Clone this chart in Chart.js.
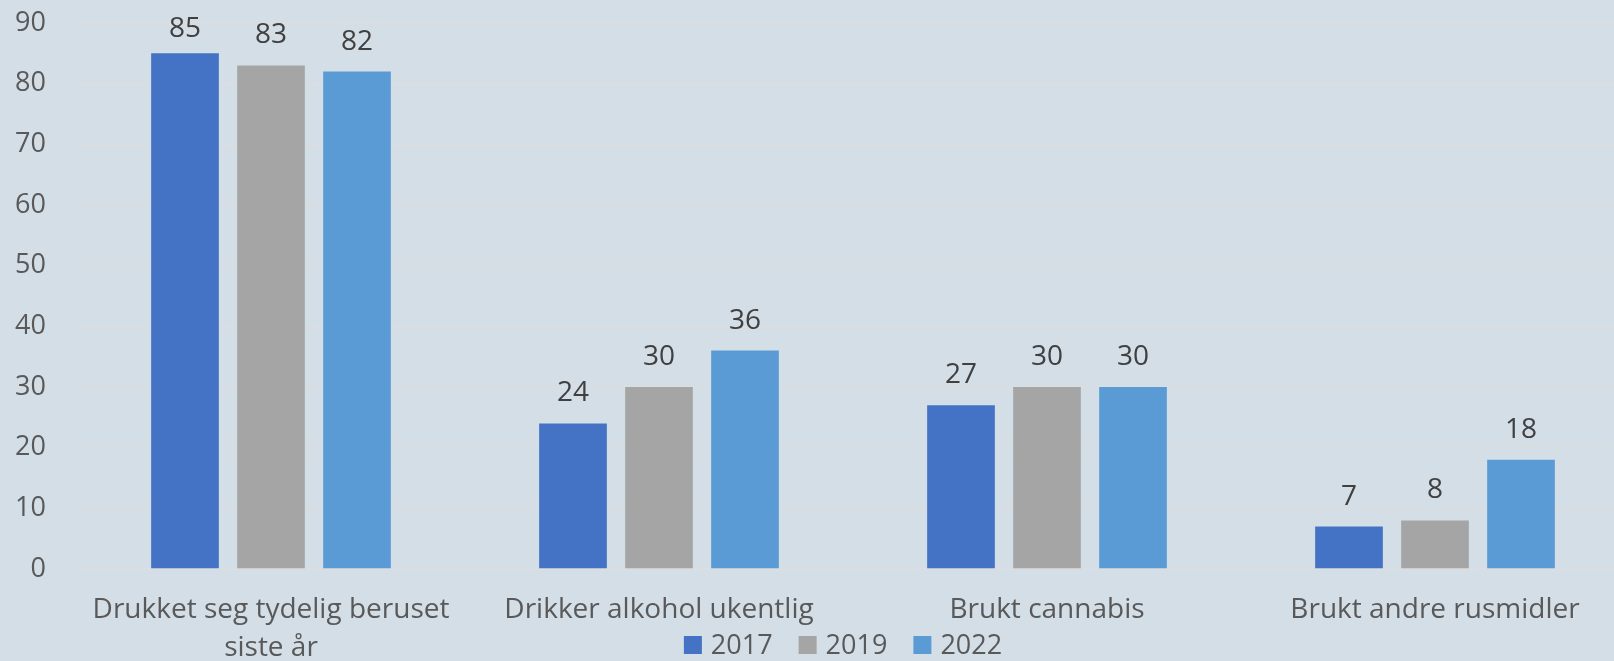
<!DOCTYPE html>
<html>
<head>
<meta charset="utf-8">
<script src="https://cdn.jsdelivr.net/npm/chart.js@4.4.1/dist/chart.umd.min.js"></script>
<style>
  html, body { margin: 0; padding: 0; background: #D4DEE7; overflow: hidden; }
  #wrap { position: relative; width: 1630px; height: 661px; }
</style>
</head>
<body>
<div id="wrap"><canvas id="rusChart"></canvas></div>
<script>
// === Data ===
const categories = [
  ["Drukket seg tydelig beruset", "siste år"],
  "Drikker alkohol ukentlig",
  "Brukt cannabis",
  "Brukt andre rusmidler"
];
const years = ["2017", "2019", "2022"];
const values2017 = [85, 24, 27, 7];
const values2019 = [83, 30, 30, 8];
const values2022 = [82, 36, 30, 18];
const yTicks = [0, 10, 20, 30, 40, 50, 60, 70, 80, 90];

const barColors = ["#4472C4", "#A5A5A5", "#5B9BD5"];
const FONT = "'Open Sans', sans-serif";

// value labels above each bar (kept inside the top edge, like Excel does)
const valueLabels = {
  id: "valueLabels",
  afterDatasetsDraw(chart) {
    const ctx = chart.ctx;
    const minY = chart.chartArea.top + 6;
    ctx.save();
    ctx.font = "28px " + FONT;
    ctx.fillStyle = "#404040";
    ctx.textAlign = "center";
    ctx.textBaseline = "middle";
    chart.data.datasets.forEach((ds, i) => {
      chart.getDatasetMeta(i).data.forEach((bar, j) => {
        ctx.fillText(ds.data[j], bar.x, Math.max(bar.y - 30, minY));
      });
    });
    ctx.restore();
  }
};

// legend drawn in the gap under the labels (like the original)
const bottomLegend = {
  id: "bottomLegend",
  afterDraw(chart) {
    const ctx = chart.ctx;
    const box = 18, gapText = 9, gapItem = 26;
    ctx.save();
    ctx.font = "27px " + FONT;
    const items = chart.data.datasets.map(ds => ({
      label: ds.label, color: ds.backgroundColor, w: ctx.measureText(ds.label).width
    }));
    const total = items.reduce((s, it) => s + box + gapText + it.w, 0) + gapItem * (items.length - 1);
    const area = chart.chartArea;
    let x = (area.left + area.right) / 2 - 10 - total / 2;
    const y = 645;
    ctx.textBaseline = "middle";
    items.forEach(it => {
      ctx.fillStyle = it.color;
      ctx.fillRect(x, y - box / 2, box, box);
      x += box + gapText;
      ctx.fillStyle = "#595959";
      ctx.fillText(it.label, x, y + 1);
      x += it.w + gapItem;
    });
    ctx.restore();
  }
};

const ctx = document.getElementById("rusChart").getContext("2d");
new Chart(ctx, {
  type: "bar",
  data: {
    labels: categories,
    datasets: [
      { label: years[0], data: values2017, backgroundColor: barColors[0] },
      { label: years[1], data: values2019, backgroundColor: barColors[1] },
      { label: years[2], data: values2022, backgroundColor: barColors[2] }
    ]
  },
  options: {
    responsive: true,
    maintainAspectRatio: false,
    animation: false,
    datasets: {
      bar: { categoryPercentage: 0.665, barPercentage: 0.787 }
    },
    layout: { padding: { top: 23, right: 1, left: 0, bottom: 0 } },
    plugins: {
      legend: { display: false },
      tooltip: { enabled: false }
    },
    scales: {
      x: {
        grid: { display: false },
        border: { display: false },
        ticks: {
          color: "#595959",
          font: { family: FONT, size: 28, lineHeight: 1.35 },
          padding: 14,
          maxRotation: 0,
          autoSkip: false
        },
        afterFit: scale => { scale.height = 92; }
      },
      y: {
        min: 0,
        max: 90,
        afterBuildTicks: scale => { scale.ticks = yTicks.map(v => ({ value: v })); },
        // invisible tick marks give the gap between labels and plot
        grid: { color: "#DCDDDF", lineWidth: 1.5, drawTicks: true, tickLength: 31, tickColor: "rgba(0,0,0,0)" },
        border: { display: false },
        ticks: {
          color: "#595959",
          font: { family: FONT, size: 27 },
          padding: 0
        },
        afterFit: scale => { scale.width = 77; }
      }
    }
  },
  plugins: [valueLabels, bottomLegend]
});
</script>
</body>
</html>
